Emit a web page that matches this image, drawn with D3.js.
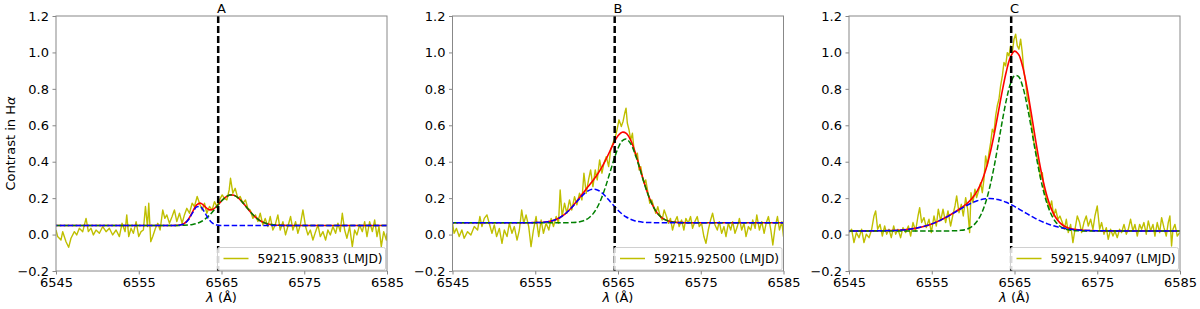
<!DOCTYPE html>
<html>
<head>
<meta charset="utf-8">
<script src="https://cdn.jsdelivr.net/npm/d3@7"></script>
<style>
  body { margin: 0; background: #fff; }
  svg { display: block; font-family: "DejaVu Sans", sans-serif; }
</style>
</head>
<body>
<svg id="chart" width="1200" height="309"></svg>
<script>
// ---- data ----
var panelTitles = ["A", "B", "C"];
var legendLabels = ["59215.90833 (LMJD)", "59215.92500 (LMJD)", "59215.94097 (LMJD)"];
var xTicks = [6545, 6555, 6565, 6575, 6585];
var yTicks = [-0.2, 0.0, 0.2, 0.4, 0.6, 0.8, 1.0, 1.2];
var restLine = 6564.6;   // H-alpha marker

// observed contrast profiles [lambda, contrast]
var specA = [[6545.00,0.025],[6545.20,-0.011],[6545.60,-0.030],[6545.81,0.016],[6546.21,-0.039],[6546.53,-0.070],[6546.81,-0.020],[6547.22,0.016],[6547.50,-0.002],[6547.82,0.035],[6548.23,0.016],[6548.63,0.089],[6548.91,0.016],[6549.23,0.035],[6549.52,-0.002],[6549.84,0.025],[6550.24,0.007],[6550.65,0.044],[6551.05,0.016],[6551.45,0.035],[6551.85,-0.002],[6552.26,0.025],[6552.66,-0.011],[6552.98,0.062],[6553.35,0.016],[6553.55,0.108],[6553.79,-0.011],[6554.07,0.035],[6554.35,0.007],[6554.68,0.071],[6555.00,-0.011],[6555.28,0.016],[6555.56,0.025],[6555.81,0.154],[6556.05,0.044],[6556.21,0.172],[6556.45,-0.039],[6556.69,-0.011],[6557.02,0.035],[6557.30,0.062],[6557.58,0.025],[6557.90,0.135],[6558.15,0.089],[6558.39,0.108],[6558.71,0.062],[6559.03,0.099],[6559.31,0.135],[6559.60,0.071],[6559.92,0.117],[6560.24,0.062],[6560.52,0.108],[6560.81,0.144],[6561.13,0.117],[6561.45,0.172],[6561.73,0.154],[6562.06,0.209],[6562.34,0.172],[6562.66,0.135],[6562.94,0.172],[6563.23,0.117],[6563.55,0.154],[6563.87,0.135],[6564.15,0.181],[6564.44,0.154],[6564.76,0.190],[6565.08,0.218],[6565.36,0.199],[6565.65,0.190],[6565.93,0.245],[6566.09,0.309],[6566.37,0.227],[6566.65,0.254],[6566.98,0.199],[6567.26,0.209],[6567.58,0.172],[6567.90,0.190],[6568.19,0.144],[6568.47,0.135],[6568.79,0.089],[6569.11,0.108],[6569.40,0.071],[6569.68,0.117],[6570.00,0.053],[6570.28,0.089],[6570.60,0.044],[6570.89,0.099],[6571.21,0.025],[6571.49,0.053],[6571.81,0.108],[6572.10,0.025],[6572.42,0.071],[6572.74,-0.002],[6573.02,0.044],[6573.35,0.099],[6573.63,0.025],[6573.95,0.071],[6574.23,0.007],[6574.52,0.053],[6574.84,0.135],[6575.16,0.044],[6575.44,-0.002],[6575.73,0.025],[6576.05,-0.030],[6576.37,0.016],[6576.65,0.053],[6576.94,-0.011],[6577.26,0.016],[6577.58,-0.030],[6577.86,0.025],[6578.15,-0.002],[6578.47,0.044],[6578.79,0.007],[6579.07,0.062],[6579.35,0.016],[6579.60,0.117],[6579.88,0.025],[6580.16,-0.020],[6580.48,0.044],[6580.81,-0.066],[6581.09,0.025],[6581.37,-0.002],[6581.69,0.053],[6582.02,0.016],[6582.30,0.071],[6582.58,-0.011],[6582.90,0.071],[6583.23,0.016],[6583.51,0.080],[6583.79,-0.011],[6584.03,0.044],[6584.31,-0.066],[6584.60,0.016],[6584.92,-0.030],[6585.00,0.007]];

var specB = [[6545.00,0.062],[6545.20,0.007],[6545.48,0.034],[6545.81,-0.011],[6546.13,0.025],[6546.41,-0.020],[6546.82,0.016],[6547.22,-0.002],[6547.63,0.044],[6548.03,0.025],[6548.31,0.099],[6548.56,0.044],[6548.84,0.089],[6549.16,0.108],[6549.44,0.062],[6549.77,0.007],[6550.05,0.053],[6550.33,-0.011],[6550.66,0.034],[6550.98,-0.048],[6551.26,0.025],[6551.59,-0.011],[6551.87,0.062],[6552.19,0.007],[6552.47,0.044],[6552.80,-0.030],[6553.08,0.025],[6553.36,0.135],[6553.61,0.062],[6553.89,0.108],[6554.21,0.044],[6554.49,-0.066],[6554.78,0.025],[6555.10,0.099],[6555.42,-0.011],[6555.71,0.080],[6555.99,0.007],[6556.31,0.062],[6556.64,0.025],[6556.92,0.089],[6557.20,0.044],[6557.53,0.099],[6557.81,0.062],[6558.01,0.245],[6558.25,0.099],[6558.54,0.172],[6558.82,0.117],[6559.14,0.190],[6559.42,0.135],[6559.75,0.208],[6560.03,0.163],[6560.35,0.227],[6560.64,0.190],[6560.88,0.337],[6561.16,0.227],[6561.44,0.300],[6561.69,0.355],[6561.97,0.263],[6562.25,0.355],[6562.49,0.300],[6562.78,0.410],[6563.06,0.337],[6563.30,0.392],[6563.59,0.428],[6563.87,0.373],[6564.11,0.465],[6564.39,0.502],[6564.68,0.538],[6564.88,0.575],[6565.12,0.630],[6565.40,0.593],[6565.61,0.621],[6565.81,0.666],[6565.97,0.694],[6566.13,0.611],[6566.33,0.575],[6566.54,0.520],[6566.74,0.556],[6566.94,0.465],[6567.14,0.428],[6567.34,0.447],[6567.55,0.355],[6567.75,0.373],[6567.95,0.318],[6568.15,0.282],[6568.35,0.300],[6568.56,0.245],[6568.84,0.172],[6569.08,0.190],[6569.32,0.153],[6569.57,0.117],[6569.81,0.153],[6570.05,0.108],[6570.33,0.080],[6570.58,0.135],[6570.86,0.099],[6571.10,0.062],[6571.34,0.089],[6571.59,0.025],[6571.87,0.071],[6572.15,0.099],[6572.39,0.044],[6572.68,0.080],[6572.96,0.025],[6573.20,0.089],[6573.48,0.062],[6573.77,0.099],[6574.01,0.034],[6574.29,0.071],[6574.58,0.099],[6574.82,0.044],[6575.10,0.062],[6575.38,-0.011],[6575.63,-0.048],[6575.91,0.025],[6576.19,0.080],[6576.43,0.117],[6576.72,0.053],[6577.00,0.025],[6577.24,0.071],[6577.53,0.007],[6577.81,0.044],[6578.05,-0.011],[6578.33,0.062],[6578.62,0.025],[6578.86,0.071],[6579.14,0.007],[6579.42,0.044],[6579.67,0.089],[6579.95,0.025],[6580.23,0.062],[6580.47,-0.011],[6580.76,0.044],[6581.04,0.025],[6581.28,0.080],[6581.57,0.034],[6581.77,0.108],[6582.09,0.025],[6582.37,0.071],[6582.66,0.007],[6582.90,0.062],[6583.18,0.099],[6583.47,0.025],[6583.71,-0.057],[6583.99,0.044],[6584.27,0.099],[6584.51,0.025],[6584.80,0.071],[6585.00,-0.011]];

var specC = [[6545.00,0.011],[6545.32,0.029],[6545.60,-0.044],[6545.89,0.011],[6546.21,-0.017],[6546.53,0.029],[6546.81,-0.044],[6547.09,0.002],[6547.42,-0.017],[6547.74,0.029],[6548.02,0.102],[6548.22,0.130],[6548.46,0.029],[6548.75,0.056],[6549.03,-0.008],[6549.31,0.047],[6549.55,0.002],[6549.83,0.029],[6550.11,-0.017],[6550.40,0.047],[6550.64,0.002],[6550.92,0.029],[6551.24,-0.017],[6551.52,0.038],[6551.85,0.011],[6552.17,0.047],[6552.45,-0.008],[6552.73,0.066],[6553.05,0.020],[6553.34,0.102],[6553.54,0.148],[6553.78,0.066],[6554.06,0.093],[6554.34,0.038],[6554.67,0.084],[6554.95,0.011],[6555.27,0.102],[6555.55,0.047],[6555.79,0.139],[6556.08,0.075],[6556.36,0.139],[6556.68,0.066],[6556.96,0.130],[6557.28,0.047],[6557.57,0.111],[6557.81,0.157],[6558.01,0.212],[6558.29,0.120],[6558.57,0.166],[6558.81,0.102],[6559.10,0.203],[6559.34,0.139],[6559.58,0.011],[6559.74,0.230],[6559.98,0.175],[6560.22,0.249],[6560.42,0.203],[6560.71,0.249],[6560.91,0.285],[6561.11,0.230],[6561.31,0.304],[6561.51,0.432],[6561.71,0.377],[6561.92,0.450],[6562.12,0.505],[6562.32,0.578],[6562.52,0.560],[6562.72,0.652],[6562.92,0.707],[6563.12,0.743],[6563.32,0.817],[6563.53,0.871],[6563.73,0.945],[6563.93,0.926],[6564.13,0.999],[6564.33,0.981],[6564.53,1.036],[6564.73,0.999],[6564.94,1.073],[6565.14,1.100],[6565.34,1.036],[6565.54,1.018],[6565.74,1.073],[6565.94,0.999],[6566.14,0.890],[6566.35,0.835],[6566.55,0.743],[6566.75,0.725],[6566.95,0.633],[6567.15,0.578],[6567.35,0.505],[6567.55,0.469],[6567.75,0.414],[6567.96,0.377],[6568.16,0.304],[6568.36,0.340],[6568.56,0.249],[6568.76,0.212],[6569.00,0.175],[6569.24,0.139],[6569.49,0.185],[6569.73,0.102],[6569.97,0.139],[6570.25,0.084],[6570.49,0.102],[6570.78,0.066],[6571.02,0.029],[6571.26,0.084],[6571.50,0.011],[6571.78,0.056],[6572.06,-0.044],[6572.31,0.029],[6572.59,0.102],[6572.87,0.066],[6573.11,0.011],[6573.39,0.066],[6573.67,0.102],[6573.92,0.047],[6574.20,0.084],[6574.48,0.029],[6574.72,0.102],[6575.00,0.157],[6575.29,0.029],[6575.53,0.066],[6575.81,0.002],[6576.09,0.038],[6576.33,-0.026],[6576.61,0.029],[6576.90,-0.008],[6577.14,0.020],[6577.42,-0.017],[6577.70,0.029],[6577.94,0.011],[6578.23,0.056],[6578.51,0.002],[6578.75,0.029],[6579.03,0.084],[6579.31,0.020],[6579.55,0.056],[6579.84,-0.008],[6580.12,0.056],[6580.36,0.029],[6580.64,0.066],[6580.92,0.002],[6581.17,0.075],[6581.45,0.020],[6581.73,0.056],[6581.97,-0.008],[6582.25,0.066],[6582.54,0.011],[6582.78,0.093],[6583.06,0.038],[6583.34,-0.008],[6583.58,0.066],[6583.78,0.102],[6583.98,-0.063],[6584.15,0.029],[6584.39,0.056],[6584.67,-0.008],[6584.95,0.011]];

// fitted model curves sampled at fitLam (total = red, components = blue / green)
var fitLamA = [6545,6558,6558.5,6559,6559.5,6560,6560.5,6561,6561.5,6562,6562.5,6563,6563.5,6564,6564.5,6565,6565.5,6566,6566.5,6567,6567.5,6568,6568.5,6569,6569.5,6570,6570.5,6571,6571.5,6572,6572.5,6573,6585];
var totalA = [0.05,0.05,0.05,0.0501,0.0505,0.0525,0.0609,0.0842,0.1246,0.1629,0.1722,0.1536,0.1362,0.1394,0.1597,0.1848,0.2057,0.217,0.2157,0.2022,0.1794,0.1519,0.1243,0.1001,0.0813,0.0681,0.0597,0.0548,0.0522,0.0509,0.0504,0.0501,0.05];
var blueA = [0.05,0.05,0.05,0.05,0.0503,0.0521,0.0598,0.0816,0.119,0.1519,0.1519,0.119,0.0816,0.0598,0.0521,0.0503,0.05,0.05,0.05,0.05,0.05,0.05,0.05,0.05,0.05,0.05,0.05,0.05,0.05,0.05,0.05,0.05,0.05];
var greenA = [0.05,0.05,0.05,0.0501,0.0502,0.0504,0.0511,0.0526,0.0556,0.061,0.0703,0.0846,0.1046,0.1296,0.1576,0.1845,0.2057,0.217,0.2157,0.2022,0.1794,0.1519,0.1243,0.1001,0.0813,0.0681,0.0597,0.0548,0.0522,0.0509,0.0504,0.0501,0.05];

var fitLamB = [6545,6554,6554.5,6555,6555.5,6556,6556.5,6557,6557.5,6558,6558.5,6559,6559.5,6560,6560.5,6561,6561.5,6562,6562.5,6563,6563.5,6564,6564.5,6565,6565.5,6566,6566.5,6567,6567.5,6568,6568.5,6569,6569.5,6570,6570.5,6571,6571.5,6572,6572.5,6573,6573.5,6574,6585];
var totalB = [0.065,0.0651,0.0653,0.0657,0.0664,0.0679,0.0706,0.0752,0.0826,0.0938,0.1093,0.1294,0.1542,0.1821,0.2116,0.2412,0.27,0.2988,0.3298,0.3657,0.4083,0.4561,0.5037,0.5423,0.5621,0.5557,0.5209,0.4619,0.3878,0.3098,0.238,0.1788,0.1346,0.1046,0.0859,0.0753,0.0697,0.067,0.0658,0.0653,0.0651,0.065,0.065];
var blueB = [0.065,0.0651,0.0653,0.0657,0.0664,0.0679,0.0706,0.0752,0.0826,0.0937,0.1091,0.129,0.153,0.1793,0.2051,0.2274,0.2428,0.2489,0.2448,0.2311,0.21,0.1846,0.1582,0.1336,0.1127,0.0964,0.0845,0.0764,0.0713,0.0683,0.0666,0.0658,0.0653,0.0651,0.065,0.065,0.065,0.065,0.065,0.065,0.065,0.065,0.065];
var greenB = [0.065,0.065,0.065,0.065,0.065,0.065,0.065,0.065,0.065,0.0651,0.0652,0.0654,0.0662,0.0678,0.0715,0.0788,0.0922,0.1149,0.15,0.1996,0.2633,0.3365,0.4105,0.4737,0.5144,0.5243,0.5014,0.4505,0.3815,0.3065,0.2364,0.178,0.1343,0.1045,0.0859,0.0753,0.0697,0.067,0.0658,0.0653,0.0651,0.065,0.065];

var fitLamC = [6545,6548,6549,6550,6551,6552,6553,6554,6555,6556,6557,6558,6558.5,6559,6559.5,6560,6560.5,6561,6561.5,6562,6562.5,6563,6563.5,6564,6564.5,6565,6565.5,6566,6566.5,6567,6567.5,6568,6568.5,6569,6569.5,6570,6570.5,6571,6571.5,6572,6573,6574,6575,6576,6585];
var totalC = [0.02,0.0204,0.0209,0.022,0.0241,0.0278,0.0342,0.0441,0.0585,0.0778,0.1017,0.1293,0.1445,0.1614,0.1812,0.2063,0.2401,0.287,0.3514,0.4363,0.5411,0.6605,0.7831,0.8929,0.9725,1.0071,0.9888,0.9191,0.8084,0.6731,0.5317,0.3994,0.2871,0.1995,0.1356,0.0922,0.0642,0.047,0.0366,0.0304,0.0245,0.0221,0.0209,0.0204,0.02];
var blueC = [0.02,0.0204,0.0209,0.022,0.0241,0.0278,0.0342,0.0441,0.0585,0.0778,0.1015,0.128,0.1414,0.1544,0.1664,0.1771,0.1859,0.1925,0.1966,0.198,0.1966,0.1925,0.1859,0.1771,0.1664,0.1544,0.1414,0.128,0.1145,0.1015,0.0892,0.0778,0.0675,0.0585,0.0507,0.0441,0.0386,0.0342,0.0306,0.0278,0.0241,0.022,0.0209,0.0204,0.02];
var greenC = [0.02,0.02,0.02,0.02,0.02,0.02,0.02,0.02,0.02,0.02,0.0202,0.0213,0.0231,0.027,0.0348,0.0492,0.0742,0.1145,0.1748,0.2583,0.3645,0.488,0.6172,0.7358,0.8261,0.8727,0.8674,0.8111,0.7139,0.5916,0.4625,0.3416,0.2396,0.161,0.1049,0.0681,0.0456,0.0328,0.026,0.0226,0.0204,0.0201,0.02,0.02,0.02];

var panels = [
	{spec: specA, lam: fitLamA, total: totalA, blue: blueA, green: greenA},
	{spec: specB, lam: fitLamB, total: totalB, blue: blueB, green: greenB},
	{spec: specC, lam: fitLamC, total: totalC, blue: blueC, green: greenC}
];

// ---- layout ----
var svg = d3.select("#chart");
var lefts = [56, 452.5, 849],
	pw = 331,
	plotTop = 16,
	plotBottom = 271;
var axisCol = "#888";

var y = d3.scaleLinear().domain([-0.2, 1.2]).range([plotBottom, plotTop]);

panels.forEach(function(p, k) {
	var x = d3.scaleLinear().domain([6545, 6585]).range([lefts[k], lefts[k] + pw]);
	var g = svg.append("g");

	g.append("clipPath").attr("id", "clip" + k)
		.append("rect").attr("x", lefts[k]).attr("y", plotTop).attr("width", pw).attr("height", plotBottom - plotTop);

	var plot = g.append("g").attr("clip-path", "url(#clip" + k + ")");

	// observed profile
	plot.append("path")
		.datum(p.spec)
		.attr("fill", "none")
		.attr("stroke", "#bfbf00")
		.attr("stroke-width", 1.4)
		.attr("stroke-linejoin", "round")
		.attr("d", d3.line().x(function(d) { return x(d[0]); }).y(function(d) { return y(d[1]); }));

	var fitLine = function(vals) {
		return d3.line()
			.x(function(d, i) { return x(p.lam[i]); })
			.y(function(d) { return y(d); })
			.curve(d3.curveCatmullRom)(vals);
	};

	plot.append("path").attr("d", fitLine(p.total))
		.attr("fill", "none").attr("stroke", "#ff0000").attr("stroke-width", 1.6);
	plot.append("path").attr("d", fitLine(p.green))
		.attr("fill", "none").attr("stroke", "#008000").attr("stroke-width", 1.5)
		.attr("stroke-dasharray", "5.5,2.4");
	plot.append("path").attr("d", fitLine(p.blue))
		.attr("fill", "none").attr("stroke", "#0000ff").attr("stroke-width", 1.5)
		.attr("stroke-dasharray", "5.5,2.4").attr("stroke-dashoffset", 4);

	// H-alpha marker
	plot.append("line")
		.attr("x1", x(restLine)).attr("x2", x(restLine))
		.attr("y1", plotTop).attr("y2", plotBottom)
		.attr("stroke", "#000").attr("stroke-width", 2.5)
		.attr("stroke-dasharray", "7,3");

	// legend
	var lgW = 168, lgX = lefts[k] + pw - lgW - 1.5, lgY = 247.5;
	var lg = g.append("g");
	lg.append("rect")
		.attr("x", lgX).attr("y", lgY).attr("width", lgW).attr("height", plotBottom - lgY - 1)
		.attr("rx", 2).attr("fill", "#fff").attr("fill-opacity", 0.85)
		.attr("stroke", "#d0d0d0").attr("stroke-width", 1);
	lg.append("line")
		.attr("x1", lgX + 6).attr("x2", lgX + 31).attr("y1", 258.5).attr("y2", 258.5)
		.attr("stroke", "#bfbf00").attr("stroke-width", 1.5);
	lg.append("text")
		.attr("x", lgX + 40).attr("y", 263)
		.attr("font-size", 12.2).attr("fill", "#000")
		.text(legendLabels[k]);

	// axes
	var ax = g.append("g").attr("transform", "translate(0," + plotBottom + ")")
		.call(d3.axisBottom(x).tickValues(xTicks).tickFormat(d3.format("d")).tickSize(3.5).tickPadding(3.5));
	var ay = g.append("g").attr("transform", "translate(" + lefts[k] + ",0)")
		.call(d3.axisLeft(y).tickValues(yTicks).tickFormat(d3.format(".1f")).tickSize(3.5).tickPadding(3.5));
	[ax, ay].forEach(function(a) {
		a.select(".domain").remove();
		a.selectAll(".tick line").attr("stroke", axisCol);
		a.selectAll(".tick text").attr("font-size", 13).attr("fill", "#000")
			.attr("font-family", "DejaVu Sans, sans-serif");
	});

	// frame
	g.append("rect")
		.attr("x", lefts[k]).attr("y", plotTop).attr("width", pw).attr("height", plotBottom - plotTop)
		.attr("fill", "none").attr("stroke", axisCol).attr("stroke-width", 1);

	// title
	g.append("text")
		.attr("x", lefts[k] + pw / 2).attr("y", 13)
		.attr("text-anchor", "middle").attr("font-size", 13)
		.text(panelTitles[k]);

	// x label
	var xl = g.append("text")
		.attr("x", lefts[k] + pw / 2).attr("y", 302)
		.attr("text-anchor", "middle").attr("font-size", 13);
	xl.append("tspan").attr("font-style", "italic").text("λ");
	xl.append("tspan").text(" (Å)");
});

// y label
var yl = svg.append("text")
	.attr("transform", "translate(15," + ((plotTop + plotBottom) / 2) + ") rotate(-90)")
	.attr("text-anchor", "middle").attr("font-size", 13);
yl.append("tspan").text("Contrast in H");
yl.append("tspan").attr("font-style", "italic").text("α");
</script>
</body>
</html>
